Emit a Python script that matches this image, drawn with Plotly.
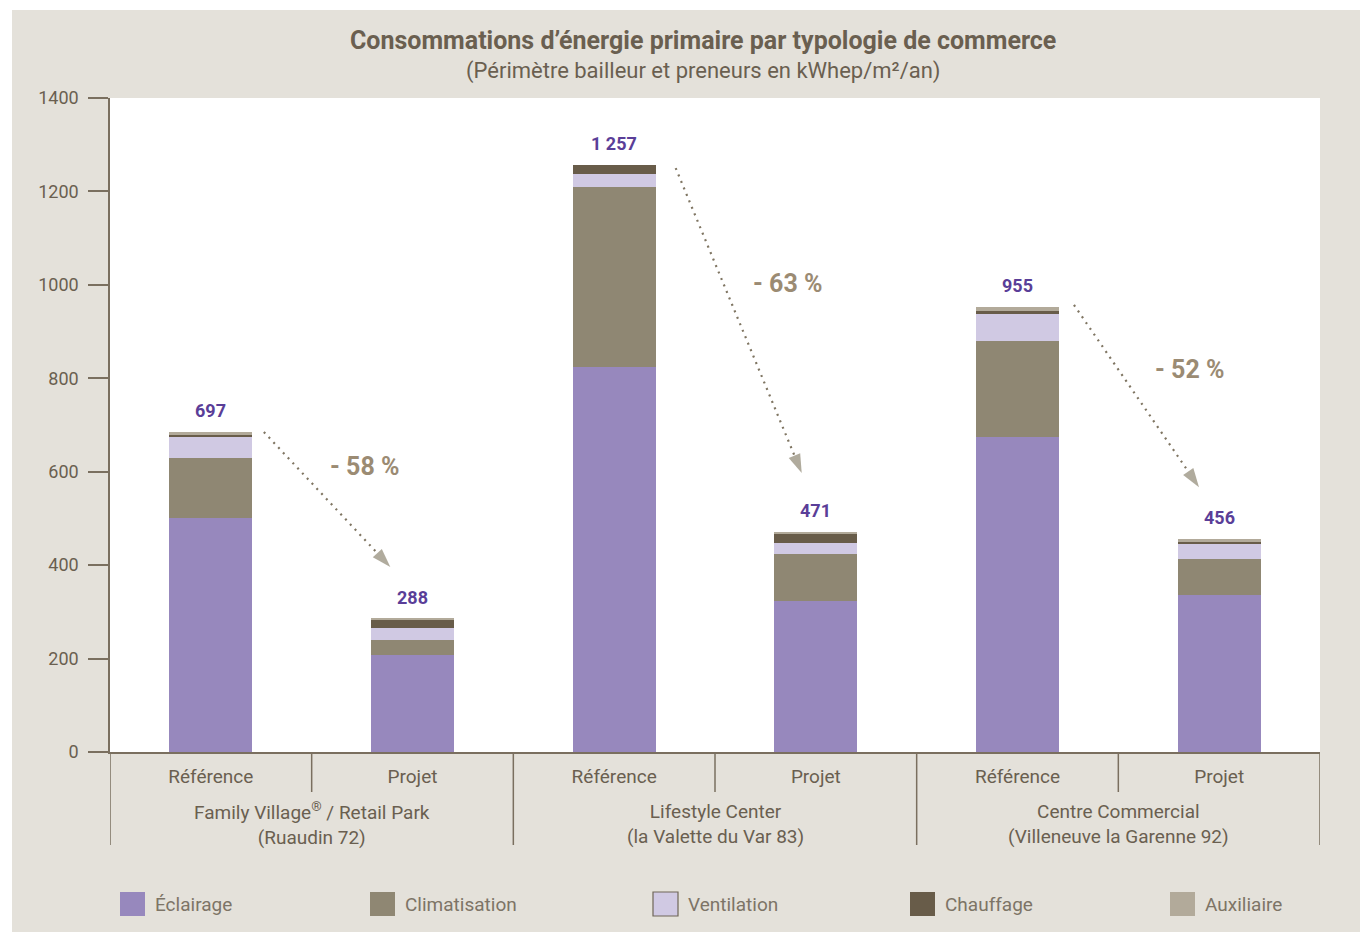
import plotly.graph_objects as go

# ---------------- data ----------------
groups = ["Family Village<sup>®</sup> / Retail Park<br>(Ruaudin 72)",
          "Lifestyle Center<br>(la Valette du Var 83)",
          "Centre Commercial<br>(Villeneuve la Garenne 92)"]
sub_labels = ["Référence", "Projet", "Référence", "Projet", "Référence", "Projet"]

series_names = ["Éclairage", "Climatisation", "Ventilation", "Chauffage", "Auxiliaire"]
eclairage     = [501, 208, 825, 323, 675, 336]
climatisation = [128, 32, 384, 100, 205, 77]
ventilation   = [47, 26, 28, 24, 59, 32]
chauffage     = [3, 17, 20, 21, 4, 5]
auxiliaire    = [6, 2, 0, 3, 10, 5]
series_values = [eclairage, climatisation, ventilation, chauffage, auxiliaire]

total_labels = ["697", "288", "1 257", "471", "955", "456"]
reduction_labels = ["- 58 %", "- 63 %", "- 52 %"]

y_ticks = [0, 200, 400, 600, 800, 1000, 1200, 1400]

colors = ["#9788bd", "#8f8773", "#d0c9e3", "#685c49", "#b2aa9a"]

FONT = "Roboto"
AXIS_COL = "#7a6f5f"
TEXT_COL = "#6a5f50"
BG = "#e4e1da"

x_idx = list(range(len(sub_labels)))

fig = go.Figure()
for name, vals, col in zip(series_names, series_values, colors):
    fig.add_trace(go.Bar(
        x=x_idx, y=vals, name=name, width=0.41,
        marker=dict(color=col, line=dict(width=0)),
        showlegend=False, hoverinfo="name+y"))

totals = [sum(v) for v in zip(*series_values)]

annotations = []
# total value labels
for i, (t, lab) in enumerate(zip(totals, total_labels)):
    annotations.append(dict(x=i, y=t, xref="x", yref="y", text="<b>%s</b>" % lab,
                            showarrow=False, yanchor="bottom", yshift=9,
                            font=dict(family=FONT, size=18, color="#5a3e98")))

# arrows (dotted) between reference and project
arrow_pts = [((0.263, 685), (0.89, 396)),
             ((2.305, 1250), (2.93, 597)),
             ((4.28, 957), (4.90, 567))]
for (x0, y0), (x1, y1) in arrow_pts:
    fig.add_trace(go.Scatter(
        x=[x0, x1], y=[y0, y1], mode="lines+markers",
        line=dict(color="#7f7562", width=2.2, dash="2px,5px"),
        marker=dict(symbol="arrow", angleref="previous", size=[0, 20],
                    color="#8f8773", line=dict(width=0)),
        showlegend=False, hoverinfo="skip"))

pct_pos = [(0.764, 612), (2.86, 1002), (4.854, 818)]
for (px, py), lab in zip(pct_pos, reduction_labels):
    annotations.append(dict(x=px, y=py, xref="x", yref="y", text="<b>%s</b>" % lab,
                            showarrow=False, yanchor="middle",
                            font=dict(family=FONT, size=25, color="#9b8b73")))

# group labels
def yp(py):
    return (752 - py) / 654.0

def xp(px):
    return (px - 110) / 1210.0

for gi, g in enumerate(groups):
    annotations.append(dict(x=2 * gi + 0.5, y=yp(824), xref="x", yref="paper", text=g,
                            showarrow=False, yanchor="middle", xanchor="center",
                            font=dict(family=FONT, size=19, color=TEXT_COL)))

# title
annotations.append(dict(x=xp(703), y=yp(40), xref="paper", yref="paper",
                        text="<b>Consommations d’énergie primaire par typologie de commerce</b>",
                        showarrow=False, xanchor="center", yanchor="middle",
                        font=dict(family=FONT, size=25, color="#6a5f50")))
annotations.append(dict(x=xp(703), y=yp(71), xref="paper", yref="paper",
                        text="(Périmètre bailleur et preneurs en kWhep/m²/an)",
                        showarrow=False, xanchor="center", yanchor="middle",
                        font=dict(family=FONT, size=22, color=TEXT_COL)))

shapes = []
# outer white border strips
shapes.append(dict(type="rect", xref="paper", yref="paper", x0=xp(-5), x1=xp(12), y0=yp(1000), y1=yp(-5),
                   fillcolor="white", line=dict(width=0), layer="below"))
shapes.append(dict(type="rect", xref="paper", yref="paper", x0=xp(-5), x1=xp(1400), y0=yp(10), y1=yp(-5),
                   fillcolor="white", line=dict(width=0), layer="below"))

# dividers under the x axis
for xv in [-0.5, 1.5, 3.5, 5.5]:
    shapes.append(dict(type="line", xref="x", yref="paper", x0=xv, x1=xv, y0=0, y1=yp(845),
                       line=dict(color=AXIS_COL, width=1.5)))
for xv in [0.5, 2.5, 4.5]:
    shapes.append(dict(type="line", xref="x", yref="paper", x0=xv, x1=xv, y0=0, y1=yp(792),
                       line=dict(color=AXIS_COL, width=1.5)))

# legend (custom)
legend_x = [120, 370, 653, 910, 1170]
for name, col, lx in zip(series_names, colors, legend_x):
    border = dict(color="#6f6658", width=1.2) if name == "Ventilation" else dict(width=0)
    shapes.append(dict(type="rect", xref="paper", yref="paper",
                       x0=xp(lx), x1=xp(lx + 25), y0=yp(916), y1=yp(892),
                       fillcolor=col, line=border))
    annotations.append(dict(x=xp(lx + 33), y=yp(904), xref="paper", yref="paper",
                            text=name, showarrow=False, xanchor="left", yanchor="middle",
                            font=dict(family=FONT, size=19, color="#7d7466")))

fig.update_layout(
    barmode="stack",
    width=1360, height=932,
    margin=dict(l=110, r=40, t=98, b=180),
    paper_bgcolor=BG, plot_bgcolor="white",
    font=dict(family=FONT, color=TEXT_COL),
    annotations=annotations, shapes=shapes,
    bargap=0.59,
    xaxis=dict(range=[-0.5, 5.5], tickvals=x_idx, ticktext=sub_labels,
               showgrid=False, zeroline=False, showline=True, linecolor=AXIS_COL, linewidth=1.5,
               ticks="", tickfont=dict(family=FONT, size=19, color=TEXT_COL),
               ticklabelstandoff=6, fixedrange=True),
    yaxis=dict(range=[0, 1400], tickvals=y_ticks, showgrid=False, zeroline=False,
               showline=True, linecolor=AXIS_COL, linewidth=1.5,
               ticks="outside", ticklen=20, tickwidth=1.5, tickcolor=AXIS_COL,
               tickfont=dict(family=FONT, size=18, color=TEXT_COL),
               ticklabelstandoff=6, fixedrange=True),
)

fig.write_html("out.html")
